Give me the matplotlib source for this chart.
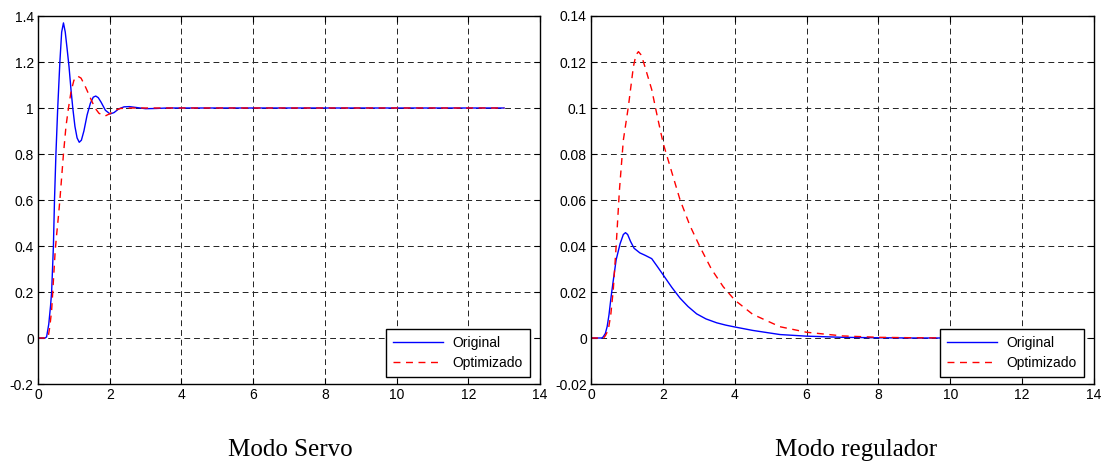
import matplotlib
matplotlib.use("Agg")
import matplotlib.pyplot as plt

# Modo servo: respuesta al escalon (tiempo, salida)
servo_t_orig = [0, 0.2, 0.24, 0.3, 0.35, 0.38, 0.43, 0.46, 0.5, 0.55, 0.61, 0.66, 0.71,
                0.76, 0.81, 0.865, 0.92, 0.97, 1.03, 1.09, 1.15, 1.21, 1.28, 1.37, 1.46,
                1.54, 1.61, 1.68, 1.76, 1.88, 2.01, 2.12, 2.25, 2.4, 2.55, 2.75, 3.0,
                3.3, 3.6, 13.0]
servo_y_orig = [0, 0, 0.005, 0.06, 0.14, 0.2, 0.4, 0.6, 0.8, 1.0, 1.2, 1.33, 1.37,
                1.33, 1.26, 1.18, 1.08, 1.0, 0.92, 0.87, 0.851, 0.86, 0.9, 0.97, 1.02,
                1.047, 1.052, 1.045, 1.025, 0.99, 0.974, 0.98, 0.996, 1.005, 1.006, 1.002, 0.997,
                0.998, 1.0, 1.0]

servo_t_opt = [0, 0.25, 0.29, 0.33, 0.38, 0.43, 0.48, 0.52, 0.57, 0.61, 0.66, 0.71, 0.78,
               0.85, 0.92, 1.0, 1.1, 1.2, 1.3, 1.4, 1.5, 1.59, 1.7, 1.87, 2.0, 2.15,
               2.3, 2.6, 13.0]
servo_y_opt = [0, 0, 0.01, 0.05, 0.12, 0.25, 0.38, 0.45, 0.53, 0.6, 0.7, 0.8, 0.92,
               1.0, 1.07, 1.12, 1.139, 1.13, 1.1, 1.065, 1.03, 1.0, 0.977, 0.965, 0.975, 0.99,
               0.998, 1.0, 1.0]

# Modo regulador: respuesta a perturbacion
reg_t_orig = [0, 0.3, 0.34, 0.4, 0.45, 0.5, 0.56, 0.62, 0.7, 0.81, 0.9, 0.96, 1.02, 1.1,
              1.2, 1.36, 1.5, 1.69, 1.85, 2.01, 2.25, 2.48, 2.7, 2.94, 3.2, 3.5, 3.75,
              4.0, 4.5, 5.26, 6.0, 7.0, 8.0, 9.0, 13.0]
reg_y_orig = [0, 0, 0.0005, 0.002, 0.005, 0.01, 0.018, 0.025, 0.034, 0.041, 0.045, 0.0458,
              0.045, 0.042, 0.039, 0.037, 0.036, 0.0345, 0.031, 0.0274, 0.022, 0.0173, 0.0137,
              0.0105, 0.0083, 0.0066, 0.0056, 0.0048, 0.0033, 0.0015, 0.0008, 0.0003, 0.0001, 0, 0]

reg_t_opt = [0, 0.35, 0.4, 0.48, 0.55, 0.62, 0.7, 0.79, 0.9, 1.04, 1.18, 1.25, 1.32, 1.4,
             1.5, 1.69, 1.85, 2.01, 2.25, 2.48, 2.75, 3.03, 3.35, 3.68, 4.0, 4.5, 5.26,
             6.0, 7.0, 8.0, 9.0, 10.0, 13.0]
reg_y_opt = [0, 0, 0.001, 0.0035, 0.01, 0.021, 0.04, 0.064, 0.086, 0.1006, 0.118, 0.123,
             0.1245, 0.123, 0.118, 0.108, 0.096, 0.0846, 0.072, 0.06, 0.049, 0.0397, 0.030,
             0.0223, 0.0165, 0.0103, 0.0049, 0.0025, 0.0009, 0.0003, 0.0001, 0, 0]

x_ticks = [0, 2, 4, 6, 8, 10, 12, 14]
servo_yticks = [-0.2, 0, 0.2, 0.4, 0.6, 0.8, 1, 1.2, 1.4]
reg_yticks = [-0.02, 0, 0.02, 0.04, 0.06, 0.08, 0.1, 0.12, 0.14]
labels_serie = ["Original", "Optimizado"]
titulos = ["Modo Servo", "Modo regulador"]

plt.rcParams["font.family"] = ["Liberation Sans", "DejaVu Sans"]
plt.rcParams["axes.unicode_minus"] = False

fig = plt.figure(figsize=(11.08, 4.71), dpi=100)
ax1 = fig.add_axes([38 / 1108, 1 - 384 / 471, 502 / 1108, 368 / 471])
ax2 = fig.add_axes([591 / 1108, 1 - 384 / 471, 503 / 1108, 368 / 471])


def estilo(ax, yticks):
    # Estilo tipo MATLAB: rejilla discontinua negra, ticks hacia dentro
    ax.set_xlim(0, 14)
    ax.set_ylim(yticks[0], yticks[-1])
    ax.set_xticks(x_ticks)
    ax.set_yticks(yticks)
    ax.set_xticklabels([str(v) for v in x_ticks])
    ax.set_yticklabels(["%g" % v for v in yticks])
    ax.tick_params(direction="in", length=4, width=0.8, labelsize=10,
                   top=True, right=True, pad=3)
    ax.grid(True, color="#222222", linestyle=(0, (6, 4)), linewidth=0.7)
    for s in ax.spines.values():
        s.set_linewidth(1.0)
        s.set_color("black")


ax1.plot(servo_t_orig, servo_y_orig, color="#0000ff", linewidth=1.0, label=labels_serie[0])
ax1.plot(servo_t_opt, servo_y_opt, color="#ff0000", linewidth=1.0, linestyle=(0, (5, 4)),
         label=labels_serie[1])
estilo(ax1, servo_yticks)

ax2.plot(reg_t_orig, reg_y_orig, color="#0000ff", linewidth=1.0, label=labels_serie[0])
ax2.plot(reg_t_opt, reg_y_opt, color="#ff0000", linewidth=1.0, linestyle=(0, (5, 4)),
         label=labels_serie[1])
estilo(ax2, reg_yticks)

for ax in (ax1, ax2):
    leg = ax.legend(loc="lower right", bbox_to_anchor=(1 - 10 / 502, 7 / 368),
                    fontsize=10, handlelength=3.6, frameon=True, fancybox=False,
                    framealpha=1, edgecolor="black", borderpad=0.5, labelspacing=0.45,
                    handletextpad=0.7, borderaxespad=0)
    leg.get_frame().set_linewidth(1.0)

fig.text(290 / 1108, 1 - 450 / 471, titulos[0], ha="center", va="center",
         fontsize=18, family="Liberation Serif")
fig.text(856 / 1108, 1 - 450 / 471, titulos[1], ha="center", va="center",
         fontsize=18, family="Liberation Serif")

fig.savefig("out.png", dpi=100)
